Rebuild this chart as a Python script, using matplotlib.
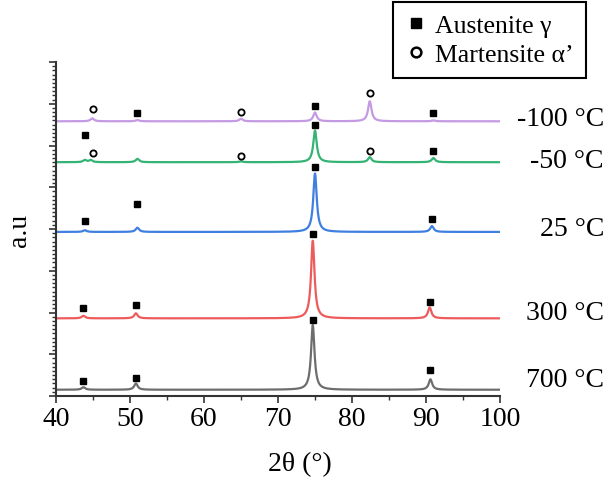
import matplotlib
matplotlib.use("Agg")
import matplotlib.pyplot as plt
import numpy as np
from matplotlib.lines import Line2D
from matplotlib.ticker import MultipleLocator

plt.rcParams['font.family'] = ['Liberation Serif', 'DejaVu Serif']

# samples, bottom to top
samples = ["700 °C", "300 °C", "25 °C", "-50 °C", "-100 °C"]
colors = ["#6d6d6d", "#ee5b5b", "#3f7fe0", "#35b374", "#c49ae3"]
baselines = [0.15, 1.86, 3.93, 5.60, 6.58]

# peak positions (2theta) and heights above baseline (a.u.)
peak_pos = [
    [43.7, 50.8, 74.7, 90.6],
    [43.7, 50.8, 74.7, 90.5],
    [43.9, 51.0, 75.0, 90.8],
    [43.9, 44.7, 51.0, 65.0, 75.0, 82.4, 91.0],
    [44.9, 51.0, 65.0, 75.0, 82.4, 91.0],
]
peak_h = [
    [0.06, 0.15, 1.55, 0.25],
    [0.06, 0.12, 1.86, 0.26],
    [0.04, 0.10, 1.40, 0.14],
    [0.05, 0.05, 0.08, 0.02, 0.76, 0.12, 0.10],
    [0.07, 0.03, 0.06, 0.21, 0.48, 0.02],
]

# austenite (square) and martensite (circle) marker positions
aus_x = [[43.7, 50.8, 74.7, 90.6], [43.7, 50.8, 74.7, 90.5], [43.9, 51.0, 75.0, 90.8],
         [43.9, 75.0, 91.0], [51.0, 75.0, 91.0]]
aus_y = [[0.36, 0.43, 1.83, 0.62], [2.10, 2.19, 3.88, 2.26], [4.19, 4.60, 5.48, 4.24],
         [6.24, 6.48, 5.86], [6.79, 6.95, 6.79]]
mar_x = [[], [], [], [45.0, 65.0, 82.4], [45.0, 65.0, 82.4]]
mar_y = [[], [], [], [5.83, 5.74, 5.88], [6.88, 6.81, 7.26]]

# vertical pixel position of the sample labels
label_y = [381, 313, 230, 162, 120]

fig = plt.figure(figsize=(6.06, 4.85), dpi=100)
ax = fig.add_axes([56/606, 1 - 397/485, 444/606, 334/485])

tt = np.linspace(40, 100, 3000)
w = 0.28
for i in range(len(samples)):
    y = np.full_like(tt, baselines[i])
    for p, h in zip(peak_pos[i], peak_h[i]):
        y += h * w**2 / ((tt - p)**2 + w**2)
    ax.plot(tt, y, color=colors[i], lw=1.6)
    ax.plot(aus_x[i], aus_y[i], 's', color='black', ms=4.8, ls='none')
    if mar_x[i]:
        ax.plot(mar_x[i], mar_y[i], 'o', mfc='white', mec='black', mew=1.3, ms=4.5, ls='none')

for s, ly in zip(samples, label_y):
    fig.text(604/606, 1 - ly/485, s, ha='right', va='center', fontsize=20)

ax.set_xlim(40, 100)
ax.set_ylim(0, 8)
ax.xaxis.set_major_locator(MultipleLocator(10))
ax.xaxis.set_minor_locator(MultipleLocator(5))
ax.yaxis.set_major_locator(MultipleLocator(1))
ax.yaxis.set_minor_locator(MultipleLocator(0.1))
ax.set_yticklabels([])
ax.tick_params(axis='both', which='major', length=5, width=1.2, direction='out', labelsize=20,
               color='#333333', pad=2)
ax.tick_params(axis='both', which='minor', length=3, width=1, direction='out', color='#333333')
for sp in ['top', 'right']:
    ax.spines[sp].set_visible(False)
for sp in ['left', 'bottom']:
    ax.spines[sp].set_linewidth(1.5)
    ax.spines[sp].set_color('#333333')

fig.text(300/606, 1 - 465/485, "2θ (°)", ha='center', va='center', fontsize=20)
fig.text(20/606, 1 - 230/485, "a.u", ha='center', va='center', rotation=90, fontsize=20)

handles = [
    Line2D([], [], marker='s', color='black', ls='none', ms=7),
    Line2D([], [], marker='o', mfc='white', mec='black', mew=1.8, ls='none', ms=7),
]
leg = fig.legend(handles, ["Austenite γ", "Martensite α’"], loc='upper left',
                 bbox_to_anchor=(393/606, 1 - 3/485), fontsize=18.5, fancybox=False,
                 edgecolor='black', framealpha=1, handletextpad=0.3, handlelength=0.9,
                 borderpad=0.45, labelspacing=0.25, borderaxespad=0)
leg.get_frame().set_linewidth(1.5)

fig.savefig("out.png", dpi=100)
